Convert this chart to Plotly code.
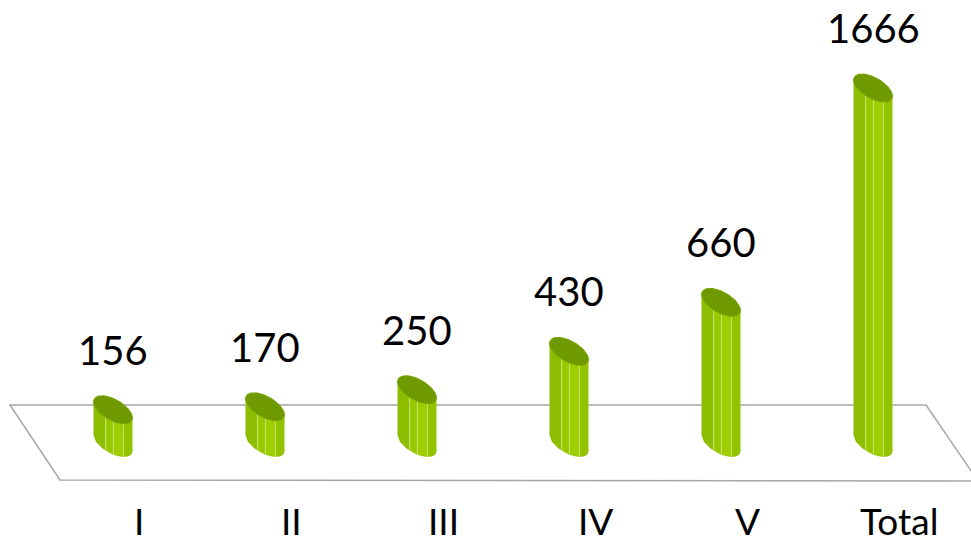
import numpy as np
import plotly.graph_objects as go

categories = ["I", "II", "III", "IV", "V", "Total"]
values = [156, 170, 250, 430, 660, 1666]

W, H = 971, 545
PX = 152.0            # pixels per category step
PY = 355.0 / 1666.0   # pixels per value unit
X0_PX = 113.0         # pixel x of first category
Y0_PX = 443.0         # pixel y of value 0

xr = [-X0_PX / PX, (W - X0_PX) / PX]
yr = [-(H - Y0_PX) / PY, Y0_PX / PY]

rx = 19.5 / PX
kd = 11.5 / PY
sd = 8.0 / PY

strip_fr = [0.0, 0.31, 0.51, 0.77, 1.0]
strip_col = ["#8CBD00", "#97C900", "#9DCE00", "#92C300"]
top_col = "#6E9A00"
sep_col = "#C6E26E"

def lower_arc(cx, cy, xs):
    c = np.clip((xs - cx) / rx, -1, 1)
    return cy - kd * np.sqrt(1 - c * c) - sd * c

def mid_line(cx, cy, xs):
    c = np.clip((xs - cx) / rx, -1, 1)
    return cy - sd * c

fig = go.Figure()

for i, v in enumerate(values):
    cx = float(i)
    for j in range(4):
        xa = cx - rx + 2 * rx * strip_fr[j]
        xb = cx - rx + 2 * rx * strip_fr[j + 1]
        xs = np.linspace(xa, xb, 12)
        yb = lower_arc(cx, 0.0, xs)
        yt = mid_line(cx, v, xs)
        px = list(xs) + list(xs[::-1])
        py = list(yb) + list(yt[::-1])
        fig.add_trace(go.Scatter(x=px, y=py, mode="lines", fill="toself",
                                 fillcolor=strip_col[j], line=dict(width=0, color=strip_col[j]),
                                 hoverinfo="skip", showlegend=False))
    for j in range(1, 4):
        xs = np.array([cx - rx + 2 * rx * strip_fr[j]])
        yb = lower_arc(cx, 0.0, xs)[0]
        yt = lower_arc(cx, v, xs)[0]
        fig.add_trace(go.Scatter(x=[xs[0], xs[0]], y=[yb, yt], mode="lines",
                                 line=dict(width=1, color=sep_col),
                                 hoverinfo="skip", showlegend=False))
    t = np.linspace(0, 2 * np.pi, 90)
    ex = cx + rx * np.cos(t)
    ey = v + kd * np.sin(t) - sd * np.cos(t)
    fig.add_trace(go.Scatter(x=ex, y=ey, mode="lines", fill="toself",
                             fillcolor=top_col, line=dict(width=1, color="#7AA500"),
                             hoverinfo="skip", showlegend=False))

annotations = []
for i, (c, v) in enumerate(zip(categories, values)):
    annotations.append(dict(x=i, y=v, xref="x", yref="y", text=str(v), showarrow=False,
                            yshift=60, font=dict(family="Lato, Calibri, sans-serif", size=40, color="#000000")))
    annotations.append(dict(x=i + 26 / PX, y=1 - 520 / H, xref="x", yref="paper", text=c,
                            showarrow=False, yanchor="middle", borderpad=0,
                            font=dict(family="Lato, Calibri, sans-serif", size=37, color="#000000")))

floor_path = "M {:.4f},{:.4f} L {:.4f},{:.4f} L {:.4f},{:.4f} L {:.4f},{:.4f} Z".format(
    10 / W, 1 - 405 / H, 926 / W, 1 - 405 / H, 978 / W, 1 - 481 / H, 60 / W, 1 - 480 / H)

fig.update_layout(
    width=W, height=H,
    margin=dict(l=0, r=0, t=0, b=0),
    paper_bgcolor="white", plot_bgcolor="white",
    xaxis=dict(range=xr, visible=False, fixedrange=True),
    yaxis=dict(range=yr, visible=False, fixedrange=True),
    shapes=[dict(type="path", path=floor_path, xref="paper", yref="paper",
                 line=dict(color="#A6A6A6", width=1.5), layer="below")],
    annotations=annotations,
    showlegend=False,
)

fig.write_html("out.html", config={"displayModeBar": False},
               post_script="document.body.style.margin='0';document.body.style.overflow='hidden';")
